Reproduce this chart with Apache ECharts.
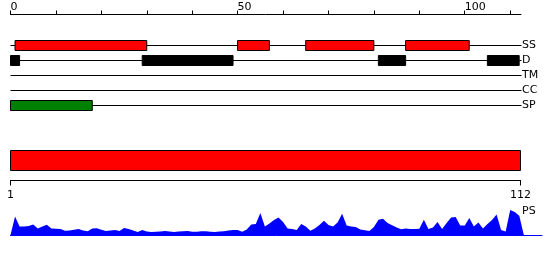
<!DOCTYPE html>
<html>
<head>
<meta charset="utf-8">
<script src="https://cdn.jsdelivr.net/npm/echarts@6/dist/echarts.min.js"></script>
<style>html,body{margin:0;padding:0;background:#fff}#c{width:550px;height:260px}</style>
</head>
<body>
<div id="c"></div>
<script>
// ---- data ----
const seqLength = 112;
const tracks = ['SS', 'D', 'TM', 'CC', 'SP'];
const ssSegments = [[1, 30], [50, 57], [65, 80], [87, 101]];
const dSegments = [[0, 2], [29, 49], [81, 87], [105, 112]];
const tmSegments = [];
const ccSegments = [];
const spSegments = [[0, 18]];
const topTickValues = [0, 10, 20, 30, 40, 50, 60, 70, 80, 90, 100, 110];
const topLabelValues = [0, 50, 100];
const proteinRange = [1, 112];
const bottomTickValues = [1, 112];
const psValues = [
  0, 18.5, 8.6, 8.6, 9, 10.5, 6.5, 8.5, 10.3, 6.5,
  6.3, 6, 4.3, 4.6, 5.3, 6, 4.5, 3.8, 6.5, 6.8,
  5.2, 4, 4.5, 5, 4, 7, 6, 4.5, 3, 5,
  3.5, 3, 3.2, 3.5, 4, 3.5, 3, 3.4, 3.8, 4,
  3.2, 3.2, 3.8, 3.8, 3.2, 3, 3.4, 3.8, 4.4, 5,
  5, 3.3, 5.5, 10.6, 11, 22, 8.6, 11.5, 15, 17.6,
  13, 6.5, 6, 5, 11, 8.5, 4.3, 6.5, 10, 14.3,
  10, 8.6, 12.6, 21.3, 9.6, 8.5, 8, 5.5, 4.7, 4,
  8, 15.3, 16.3, 12, 9.8, 7.5, 5.8, 6.6, 6, 6.1,
  6.3, 15.3, 6, 7.6, 13, 6, 12, 17.6, 18, 9.6,
  9.6, 17, 8.6, 12.6, 6.6, 11, 15, 20.6, 5, 3.6,
  25, 23, 19.3, 0
];

// ---- build ----
const FONT = '"DejaVu Sans", sans-serif';
const trackColors = { SS: '#ff0000', D: '#000000', TM: '#000000', CC: '#000000', SP: '#008000' };
const segmentsByTrack = { SS: ssSegments, D: dSegments, TM: tmSegments, CC: ccSegments, SP: spSegments };
const boxData = [];
tracks.forEach((t, ti) => segmentsByTrack[t].forEach(s => boxData.push([s[0], s[1], ti])));
const lineData = tracks.map((t, ti) => [0, ti]);
const psData = psValues.map((v, i) => [i, v]);

const chart = echarts.init(document.getElementById('c'), null, { renderer: 'canvas' });
chart.setOption({
  animation: false,
  backgroundColor: '#fff',
  textStyle: { fontFamily: FONT },
  grid: [
    { left: 10.5, right: 29, top: 38, height: 75 },
    { left: 10.5, right: 29.5, top: 140.5, height: 40 },
    { left: 10.5, right: 8, top: 205, height: 30 }
  ],
  xAxis: [
    {
      gridIndex: 0, type: 'value', position: 'top', offset: 23.5, min: 0, max: 112.4,
      axisLine: { show: true, lineStyle: { color: '#000', width: 1 } },
      axisTick: { show: true, length: 4, customValues: topTickValues, lineStyle: { color: '#000' } },
      axisLabel: { show: true, customValues: topLabelValues, align: 'left', margin: 2, fontSize: 11, color: '#000', fontFamily: FONT },
      splitLine: { show: false }
    },
    {
      gridIndex: 1, type: 'value', position: 'bottom', min: proteinRange[0], max: proteinRange[1],
      axisLine: { show: true, lineStyle: { color: '#000', width: 1 } },
      axisTick: { show: true, length: 5, customValues: bottomTickValues, lineStyle: { color: '#000' } },
      axisLabel: { show: true, customValues: bottomTickValues, margin: 9.5, fontSize: 11, color: '#000', fontFamily: FONT },
      splitLine: { show: false }
    },
    {
      gridIndex: 2, type: 'value', min: 0, max: 117,
      axisLine: { show: true, onZero: false, lineStyle: { color: '#0000ff', width: 1 } },
      axisTick: { show: false }, axisLabel: { show: false }, splitLine: { show: false }
    }
  ],
  yAxis: [
    {
      gridIndex: 0, type: 'category', data: tracks, inverse: true, position: 'right',
      axisLine: { show: false }, axisTick: { show: false },
      axisLabel: { margin: 1, fontSize: 11, color: '#000', fontFamily: FONT },
      splitLine: { show: false }
    },
    {
      gridIndex: 1, type: 'category', data: ['protein'],
      axisLine: { show: false }, axisTick: { show: false }, axisLabel: { show: false }, splitLine: { show: false }
    },
    {
      gridIndex: 2, type: 'value', min: 0, max: 30, show: false
    }
  ],
  series: [
    {
      type: 'custom', xAxisIndex: 0, yAxisIndex: 0, data: lineData, silent: true,
      renderItem: function (params, api) {
        const c = api.coord([0, api.value(1)]);
        const cs = params.coordSys;
        return {
          type: 'line',
          shape: { x1: cs.x, y1: c[1], x2: cs.x + cs.width + 0.5, y2: c[1] },
          style: { stroke: '#000', lineWidth: 1 }
        };
      }
    },
    {
      type: 'custom', xAxisIndex: 0, yAxisIndex: 0, data: boxData, silent: true,
      renderItem: function (params, api) {
        const a = api.coord([api.value(0), api.value(2)]);
        const b = api.coord([api.value(1), api.value(2)]);
        const h = 10;
        const color = trackColors[tracks[api.value(2)]];
        return {
          type: 'rect',
          shape: { x: a[0], y: a[1] - h / 2, width: b[0] - a[0], height: h },
          style: { fill: color, stroke: '#000', lineWidth: 1 }
        };
      }
    },
    {
      type: 'custom', xAxisIndex: 1, yAxisIndex: 1, data: [[proteinRange[0], proteinRange[1], 0]], silent: true,
      renderItem: function (params, api) {
        const a = api.coord([api.value(0), api.value(2)]);
        const b = api.coord([api.value(1), api.value(2)]);
        const h = 20;
        return {
          type: 'rect',
          shape: { x: a[0], y: a[1] - h / 2, width: b[0] - a[0], height: h },
          style: { fill: '#ff0000', stroke: '#000', lineWidth: 1 }
        };
      }
    },
    {
      type: 'line', xAxisIndex: 2, yAxisIndex: 2, data: psData, symbol: 'none', silent: true,
      lineStyle: { width: 0, color: '#0000ff' },
      areaStyle: { color: '#0000ff', opacity: 1 }
    }
  ],
  graphic: [
    { type: 'text', left: 522, top: 205.5, style: { text: 'PS', font: '11px ' + FONT, fill: '#000' } }
  ]
});
</script>
</body>
</html>
